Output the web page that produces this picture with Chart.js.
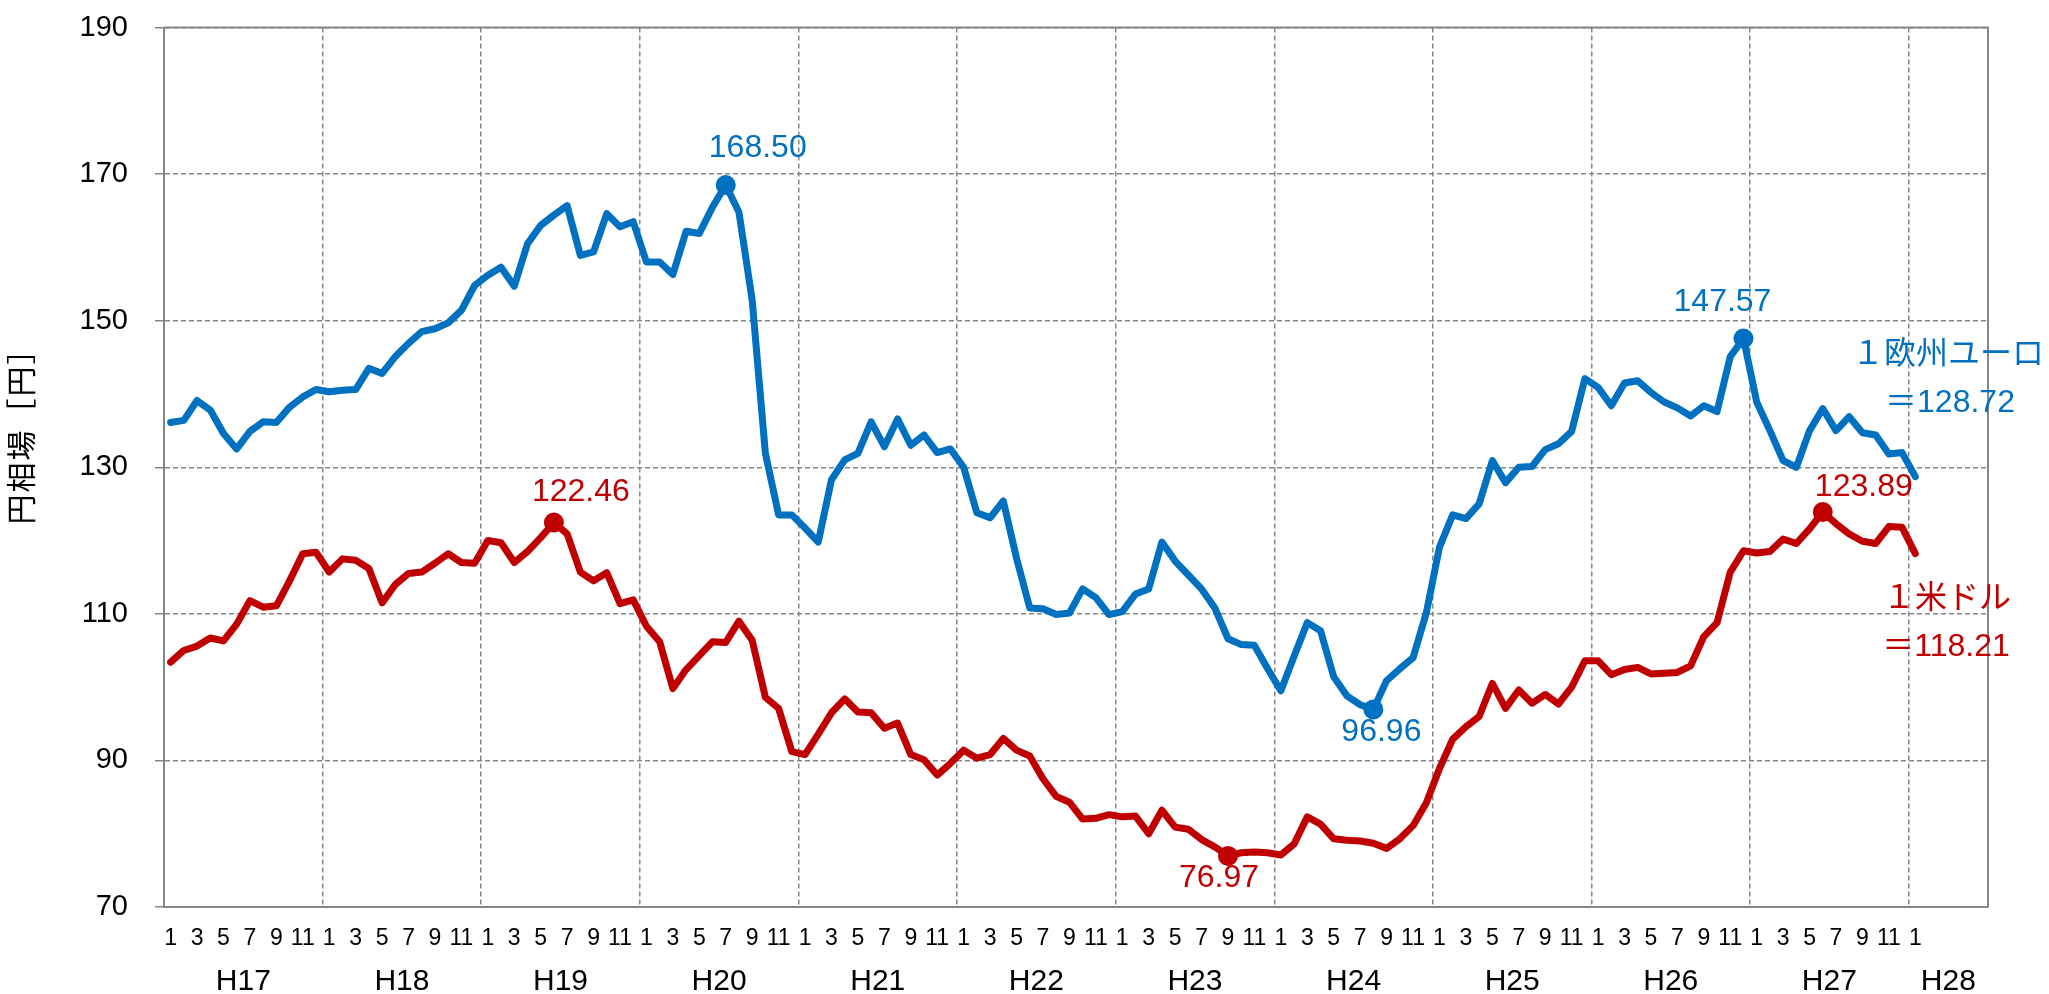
<!DOCTYPE html>
<html>
<head>
<meta charset="utf-8">
<script src="https://cdn.jsdelivr.net/npm/chart.js@4.4.1/dist/chart.umd.min.js"></script>
<style>
html,body{margin:0;padding:0;background:#fff;}
#wrap{width:2049px;height:994px;position:relative;}
</style>
</head>
<body>
<div id="wrap"><canvas id="c"></canvas></div>
<script>
// ---- categories / tick labels ----
const yearLabels = ['H17','H18','H19','H20','H21','H22','H23','H24','H25','H26','H27','H28'];
const monthsInYear = [12,12,12,12,12,12,12,12,12,12,12,6];
const monthTickLabels = ['1','','3','','5','','7','','9','','11',''];
const lastYearTickLabels = ['1','','','','',''];
const yTitle = '円相場［円］';

// ---- series values (monthly, H17/1 .. H28/1) ----
const euroValues = [
  136.1,136.4,139.1,137.8,134.6,132.5,134.9,136.2,136.1,138.2,139.6,140.6,
  140.3,140.5,140.6,143.5,142.8,145.1,146.9,148.5,148.9,149.7,151.4,154.8,
  156.2,157.3,154.7,160.5,163.0,164.4,165.7,158.9,159.4,164.6,162.8,163.5,
  158.0,158.0,156.3,162.2,161.9,165.5,168.50,164.8,152.8,131.9,123.5,123.5,
  121.7,119.8,128.3,131.0,131.9,136.2,132.8,136.6,133.0,134.4,132.0,132.5,
  130.0,123.8,123.1,125.4,117.6,110.8,110.7,109.9,110.1,113.4,112.2,109.9,
  110.3,112.7,113.4,119.8,117.2,115.3,113.4,110.8,106.6,105.8,105.7,102.5,
  99.5,104.2,108.8,107.7,101.4,98.8,97.6,96.96,100.9,102.5,104.0,110.1,
  119.1,123.5,123.0,125.0,130.9,127.9,130.0,130.1,132.4,133.2,134.9,142.1,
  140.9,138.4,141.5,141.8,140.2,138.9,138.1,137.0,138.4,137.6,145.1,147.57,
  138.9,135.0,130.9,130.0,135.0,138.0,135.0,136.9,134.7,134.4,131.8,132.0,
  128.72
];
const dollarValues = [
  103.4,105.0,105.6,106.7,106.3,108.6,111.8,110.9,111.1,114.5,118.2,118.4,
  115.7,117.5,117.3,116.2,111.5,114.0,115.5,115.7,116.9,118.2,117.0,116.9,
  120.0,119.7,117.0,118.5,120.4,122.46,120.9,115.7,114.5,115.6,111.4,111.9,
  108.3,106.2,99.8,102.4,104.3,106.2,106.1,109.0,106.4,98.6,97.1,91.2,
  90.8,93.6,96.5,98.4,96.6,96.5,94.4,95.1,90.8,90.1,88.0,89.6,
  91.4,90.3,90.8,93.0,91.4,90.6,87.5,85.1,84.3,82.0,82.1,82.6,
  82.3,82.4,80.0,83.2,80.9,80.6,79.2,78.2,76.97,77.4,77.5,77.4,
  77.1,78.6,82.3,81.3,79.3,79.1,79.0,78.7,78.0,79.3,81.1,84.2,
  88.9,92.9,94.6,96.0,100.5,97.1,99.6,97.8,99.0,97.7,100.0,103.6,
  103.6,101.7,102.4,102.7,101.8,101.9,102.0,102.9,106.9,108.8,115.7,118.6,
  118.3,118.5,120.2,119.6,121.6,123.89,122.3,120.9,119.9,119.6,121.9,121.8,
  118.21
];
const euroMarked = [42, 91, 119];
const dollarMarked = [29, 80, 125];
const euroEndLabel = ['１欧州ユーロ', '＝128.72'];
const dollarEndLabel = ['１米ドル', '＝118.21'];

// ---- build category list ----
const categories = [];
const monthTicks = [];
yearLabels.forEach((y, yi) => {
  for (let m = 0; m < monthsInYear[yi]; m++) {
    categories.push(y + '/' + (m + 1));
    monthTicks.push(yi === yearLabels.length - 1 ? lastYearTickLabels[m] : monthTickLabels[m]);
  }
});
const yearCenters = [];
let acc = 0;
monthsInYear.forEach(n => { yearCenters.push(acc + n / 2); acc += n; });
const totalMonths = acc;

// ---- styles (not data) ----
const FONT = "'Liberation Sans', Arial, 'Noto Sans CJK JP', sans-serif";
const BLUE = '#0070C0';
const RED = '#C00000';
const GRID = '#878787';
const AXIS = '#868686';

const labelStyle = {
  0: { offsets: [[32, -37], [8, 23], [-21, -36]], end: [[-40, -121], [-38, -73]] },
  1: { offsets: [[27, -30], [-9, 22], [41, -25]], end: [[-41, 46], [-42, 94]] }
};

const annotate = {
  id: 'annotate',
  beforeDatasetsDraw(chart) {
    const { ctx, chartArea: a } = chart;
    ctx.save();
    ctx.strokeStyle = AXIS;
    ctx.lineWidth = 2;
    ctx.setLineDash([]);
    ctx.beginPath();
    ctx.moveTo(a.left, a.top);
    ctx.lineTo(a.right, a.top);
    ctx.lineTo(a.right, a.bottom);
    ctx.stroke();
    ctx.restore();
  },
  afterDatasetsDraw(chart) {
    const { ctx, chartArea: a } = chart;
    ctx.save();
    ctx.font = '32px ' + FONT;
    ctx.textAlign = 'center';
    ctx.textBaseline = 'middle';
    chart.data.datasets.forEach((ds, di) => {
      const meta = chart.getDatasetMeta(di);
      const st = labelStyle[di];
      ctx.fillStyle = ds.borderColor;
      ds.marked.forEach((idx, k) => {
        const pt = meta.data[idx];
        const off = st.offsets[k];
        ctx.fillText(ds.data[idx].toFixed(2), pt.x + off[0], pt.y + off[1]);
      });
      const last = meta.data[ds.data.length - 1];
      ds.endLabel.forEach((txt, k) => {
        const off = st.end[k];
        ctx.fillText(txt, a.right + off[0], last.y + off[1]);
      });
    });
    ctx.restore();
    // y axis title
    const ys = chart.scales.y;
    ctx.save();
    ctx.font = '30px ' + FONT;
    ctx.fillStyle = '#000';
    ctx.textAlign = 'center';
    ctx.textBaseline = 'middle';
    try { ctx.letterSpacing = '2px'; } catch (e) {}
    ctx.translate(23.5, ys.getPixelForValue(135.3));
    ctx.rotate(-Math.PI / 2);
    ctx.fillText(yTitle, 0, 0);
    ctx.restore();
  }
};

function pointR(marked) {
  return c => marked.includes(c.dataIndex) ? 10 : 0;
}

new Chart(document.getElementById('c'), {
  type: 'line',
  data: {
    labels: categories,
    datasets: [
      {
        label: '1欧州ユーロ',
        data: euroValues,
        marked: euroMarked,
        endLabel: euroEndLabel,
        borderColor: BLUE,
        backgroundColor: BLUE,
        borderWidth: 7,
        tension: 0,
        borderJoinStyle: 'round',
        borderCapStyle: 'round',
        pointRadius: pointR(euroMarked),
        pointHoverRadius: pointR(euroMarked),
        pointBorderWidth: 0,
        pointBackgroundColor: BLUE,
        xAxisID: 'x', yAxisID: 'y'
      },
      {
        label: '1米ドル',
        data: dollarValues,
        marked: dollarMarked,
        endLabel: dollarEndLabel,
        borderColor: RED,
        backgroundColor: RED,
        borderWidth: 7,
        tension: 0,
        borderJoinStyle: 'round',
        borderCapStyle: 'round',
        pointRadius: pointR(dollarMarked),
        pointHoverRadius: pointR(dollarMarked),
        pointBorderWidth: 0,
        pointBackgroundColor: RED,
        xAxisID: 'x', yAxisID: 'y'
      }
    ]
  },
  options: {
    responsive: true,
    maintainAspectRatio: false,
    animation: false,
    events: [],
    layout: { padding: { top: 27.5, right: 61, left: 0, bottom: 0 } },
    plugins: { legend: { display: false }, tooltip: { enabled: false } },
    scales: {
      x: {
        type: 'category',
        position: 'bottom',
        weight: 0,
        offset: true,
        afterFit: s => { s.height = 45; s.paddingLeft = 0; s.paddingRight = 0; },
        grid: {
          offset: true,
          drawTicks: false,
          lineWidth: 1.5,
          color: c => (c.index % 12 === 0 && c.index > 0 && c.index < totalMonths) ? GRID : 'rgba(0,0,0,0)'
        },
        border: { display: true, color: AXIS, width: 2, dash: [5, 3] },
        ticks: {
          autoSkip: false, maxRotation: 0, minRotation: 0,
          padding: 18,
          color: '#000',
          font: { family: FONT, size: 23 },
          callback: (v, i) => monthTicks[i]
        }
      },
      x2: {
        type: 'linear',
        axis: 'x',
        position: 'bottom',
        weight: 1,
        min: 0,
        max: totalMonths,
        afterFit: s => { s.height = 42; s.paddingLeft = 0; s.paddingRight = 0; },
        afterBuildTicks: s => { s.ticks = yearCenters.map(v => ({ value: v })); },
        grid: { display: false, drawTicks: false },
        border: { display: false },
        ticks: {
          autoSkip: false, maxRotation: 0, minRotation: 0,
          padding: 12,
          color: '#000',
          font: { family: FONT, size: 30 },
          callback: (v, i) => yearLabels[i]
        }
      },
      y: {
        type: 'linear',
        min: 70,
        max: 190,
        afterFit: s => { s.width = 164; s.paddingTop = 0; s.paddingBottom = 0; },
        grid: { color: GRID, lineWidth: 1.5, tickLength: 9, tickColor: AXIS, tickWidth: 1.5, tickBorderDash: [] },
        border: { display: true, color: AXIS, width: 2, dash: [5, 3] },
        ticks: {
          stepSize: 20,
          padding: 27,
          color: '#000',
          font: { family: FONT, size: 29 }
        },
        title: { display: false }
      }
    }
  },
  plugins: [annotate]
});
</script>
</body>
</html>
